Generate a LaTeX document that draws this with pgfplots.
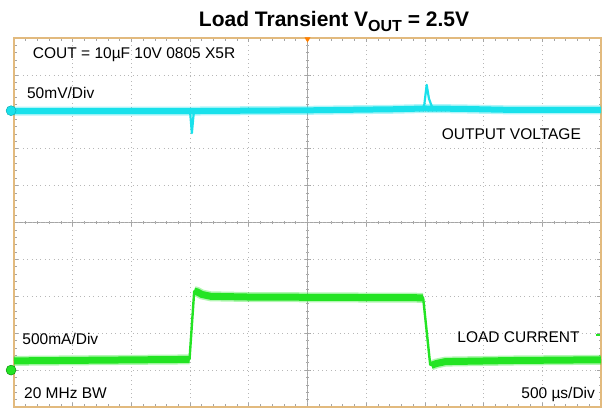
\documentclass[border=0pt]{standalone}
\usepackage{fontspec}
\setmainfont{Liberation Sans}
\usepackage{pgfplots}
\pgfplotsset{compat=1.18}
\definecolor{scopecyan}{RGB}{25,225,235}
\definecolor{scopegreen}{RGB}{35,228,35}
\definecolor{framec}{RGB}{226,186,126}
\definecolor{gridc}{RGB}{165,165,165}
\newcommand{\txt}{\fontsize{15.5bp}{18bp}\selectfont}

\begin{document}
\begin{tikzpicture}
% centre cross with fine division ticks
\begin{axis}[
  at={(0,0)}, anchor=south west,
  scale only axis, width=587bp, height=369bp,
  xmin=-5, xmax=5, ymin=-5, ymax=5,
  axis lines=middle,
  axis line style={draw=gridc, line width=0.7bp, -},
  xtick={-5,...,5}, ytick={-5,...,5},
  minor x tick num=4, minor y tick num=4,
  xticklabels={}, yticklabels={},
  tick align=center,
  major tick length=6bp, minor tick length=3.5bp,
  tick style={draw=gridc, line width=0.7bp},
]
\end{axis}

\begin{axis}[
  at={(0,0)}, anchor=south west,
  scale only axis, width=587bp, height=369bp,
  xmin=0, xmax=10, ymin=-5, ymax=5,
  clip=false,
  axis line style={draw=framec, line width=1.6bp},
  xtick={0,...,10}, ytick={-5,...,5},
  minor x tick num=4, minor y tick num=4,
  xticklabels={}, yticklabels={},
  major tick length=4bp, minor tick length=2.5bp,
  tick style={draw=gridc, line width=0.7bp},
  grid=major,
  major grid style={draw=gridc!80, line width=0.8bp, dash pattern=on 0.8bp off 3.6bp},
  unbounded coords=jump,
]
% output voltage (CH2): noisy band and thin spikes
\addplot[scopecyan, opacity=0.35, line width=9bp, line cap=butt]
  coordinates {(0,3.02)(3,3.02)(5,3.04)(6.5,3.07)(7.0,3.09)(7.6,3.08)(8.5,3.05)(10,3.05)};
\addplot[scopecyan, line width=6bp, line cap=butt]
  coordinates {(0,3.02)(3,3.02)(5,3.04)(6.5,3.07)(7.0,3.09)(7.6,3.08)(8.5,3.05)(10,3.05)};
\addplot[scopecyan, line width=2.2bp, line join=round]
  coordinates {(2.95,3.02)(3.00,3.00)(3.03,2.42)(3.06,2.94)(3.10,3.02)};
\addplot[scopecyan, line width=2.2bp, line join=round]
  coordinates {(6.96,3.09)(6.99,3.20)(7.03,3.73)(7.07,3.35)(7.12,3.14)(7.20,3.09)};

% load current (CH4)
\addplot[scopegreen, opacity=0.35, line width=10bp, line cap=butt]
  coordinates {(0,-3.75)(1.5,-3.73)(2.99,-3.71)
               (nan,nan)
               (3.07,-1.86)(3.12,-1.88)(3.20,-1.95)(3.35,-2.00)(4,-2.02)(5.5,-2.03)(6.97,-2.04)
               (nan,nan)
               (7.11,-3.87)(7.20,-3.82)(7.35,-3.77)(8.5,-3.74)(10,-3.72)};
\addplot[scopegreen, line width=7bp, line cap=butt]
  coordinates {(0,-3.75)(1.5,-3.73)(2.99,-3.71)
               (nan,nan)
               (3.07,-1.86)(3.12,-1.88)(3.20,-1.95)(3.35,-2.00)(4,-2.02)(5.5,-2.03)(6.97,-2.04)
               (nan,nan)
               (7.11,-3.87)(7.20,-3.82)(7.35,-3.77)(8.5,-3.74)(10,-3.72)};
\addplot[scopegreen, line width=2.4bp, line join=round]
  coordinates {(2.95,-3.71)(2.99,-3.71)(3.07,-1.86)(3.10,-1.86)};
\addplot[scopegreen, line width=2.4bp, line join=round]
  coordinates {(6.93,-2.04)(6.97,-2.04)(7.09,-3.85)(7.13,-3.87)};
\addplot[scopegreen, line width=1.5bp] coordinates {(9.92,-3.05)(9.98,-3.05)};

% channel reference markers and trigger marker
\addplot[only marks, mark=*, mark size=5bp,
  mark options={draw=teal!60!scopecyan, fill=scopecyan}] coordinates {(-0.05,3.03)};
\addplot[only marks, mark=*, mark size=5bp,
  mark options={draw=green!50!black, fill=scopegreen}] coordinates {(-0.05,-4.0)};
\addplot[only marks, mark=triangle*, mark size=3bp,
  mark options={rotate=180, draw=orange, fill=orange}] coordinates {(5,4.97)};
\node[inner sep=0, font=\fontsize{6bp}{6bp}\selectfont] at (axis cs:-0.05,3.03) {2};
\node[inner sep=0, font=\fontsize{6bp}{6bp}\selectfont] at (axis cs:-0.05,-4.0) {4};

% annotations
\node[anchor=west, inner sep=0, font=\txt] at (axis cs:0.32,4.54) {COUT = 10µF 10V 0805 X5R};
\node[anchor=west, inner sep=0, font=\txt] at (axis cs:0.22,3.51) {50mV/Div};
\node[anchor=east, inner sep=0, font=\txt] at (axis cs:9.66,2.40) {OUTPUT VOLTAGE};
\node[anchor=west, inner sep=0, font=\txt] at (axis cs:0.14,-3.16) {500mA/Div};
\node[anchor=east, inner sep=0, font=\txt] at (axis cs:9.64,-3.10) {LOAD CURRENT};
\node[anchor=west, inner sep=0, font=\txt] at (axis cs:0.17,-4.62) {20 MHz BW};
\node[anchor=east, inner sep=0, font=\txt] at (axis cs:9.90,-4.67) {500 µs/Div};
\end{axis}

\node[anchor=base, inner sep=0, font=\bfseries\fontsize{21bp}{24bp}\selectfont]
  at (320bp,380bp) {Load Transient V\raisebox{-5bp}{\fontsize{16bp}{16bp}\selectfont OUT} = 2.5V};

\pgfresetboundingbox
\path[use as bounding box] (-14bp,-2bp) rectangle (591bp,407bp);
\end{tikzpicture}
\end{document}
